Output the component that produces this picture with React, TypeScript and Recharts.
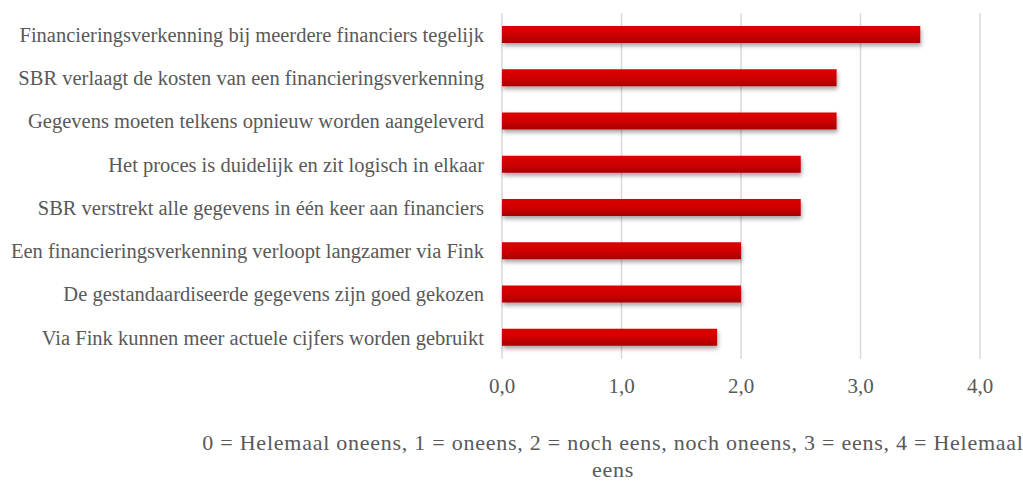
import { BarChart, Bar, XAxis, YAxis, CartesianGrid } from "recharts";

document.body.style.margin = "0";

const statements = [
  "Financieringsverkenning bij meerdere financiers tegelijk",
  "SBR verlaagt de kosten van een financieringsverkenning",
  "Gegevens moeten telkens opnieuw worden aangeleverd",
  "Het proces is duidelijk en zit logisch in elkaar",
  "SBR verstrekt alle  gegevens in één keer aan financiers ",
  "Een financieringsverkenning verloopt langzamer via Fink",
  "De gestandaardiseerde gegevens zijn goed gekozen",
  "Via Fink kunnen meer actuele cijfers worden gebruikt",
];
const scores = [3.5, 2.8, 2.8, 2.5, 2.5, 2.0, 2.0, 1.8];
const xTicks = [0, 1, 2, 3, 4];
const note =
  "0 = Helemaal oneens, 1 = oneens, 2 = noch eens, noch oneens, 3 = eens, 4 = Helemaal eens";

const data = statements.map((s, i) => ({ statement: s, score: scores[i] }));

const FONT = "'Liberation Serif', 'DejaVu Serif', serif";
const GREY = "#595959";

export default function App() {
  return (
    <div style={{ position: "relative", width: 1023, height: 486, background: "#fff" }}>
      <BarChart
        width={1023}
        height={420}
        data={data}
        layout="vertical"
        margin={{ top: 13, right: 43, bottom: 31, left: 0 }}
        barCategoryGap={26}
      >
        <defs>
          <linearGradient id="barFill" x1="0" y1="0" x2="0" y2="1">
            <stop offset="0%" stopColor="#dc0000" />
            <stop offset="50%" stopColor="#d00000" />
            <stop offset="100%" stopColor="#a80000" />
          </linearGradient>
          <filter id="barShadow" x="-5%" y="-50%" width="110%" height="220%">
            <feDropShadow dx="1" dy="3" stdDeviation="2" floodColor="#000" floodOpacity="0.35" />
          </filter>
        </defs>
        <CartesianGrid horizontal={false} stroke="#d9d9d9" strokeWidth={1.5} />
        <XAxis
          type="number"
          domain={[0, 4]}
          ticks={xTicks}
          tickFormatter={(v: number) => v.toFixed(1).replace(".", ",")}
          axisLine={false}
          tickLine={false}
          tickMargin={13}
          tick={{ fontSize: 21, fill: GREY, fontFamily: FONT }}
        />
        <YAxis
          type="category"
          dataKey="statement"
          width={502}
          axisLine={false}
          tickLine={false}
          tickMargin={12}
          interval={0}
          tick={{ fontSize: 20.5, fill: GREY, fontFamily: FONT }}
        />
        <Bar
          dataKey="score"
          fill="url(#barFill)"
          filter="url(#barShadow)"
          barSize={17}
          isAnimationActive={false}
        />
      </BarChart>
      <div
        style={{
          position: "absolute",
          left: 200,
          top: 429,
          width: 826,
          textAlign: "center",
          fontFamily: FONT,
          fontSize: 22,
          letterSpacing: 0.75,
          lineHeight: "27px",
          color: GREY,
        }}
      >
        {note}
      </div>
    </div>
  );
}
